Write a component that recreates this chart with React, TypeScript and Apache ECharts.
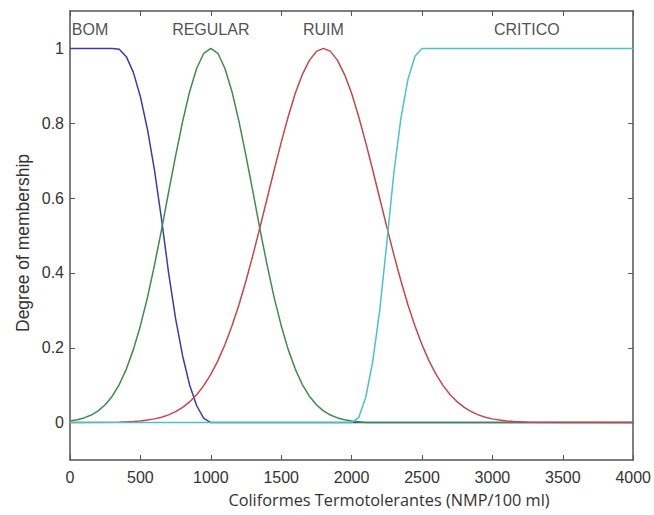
import React, { useEffect, useRef } from "react";
import * as echarts from "echarts";

// Membership function samples (x in NMP/100 ml, y = degree)
const bomX = [0, 300, 350, 400, 450, 500, 550, 600, 650, 700, 750, 800, 850, 900, 950, 1000, 4000];
const bomY = [1, 1, 0.998, 0.978, 0.936, 0.871, 0.784, 0.675, 0.544, 0.401, 0.278, 0.178, 0.1, 0.045, 0.011, 0, 0];

const regularX = [0, 50, 100, 150, 200, 250, 300, 350, 400, 450, 500, 550, 600, 650, 700, 750, 800, 850, 900, 950,
  1000, 1050, 1100, 1150, 1200, 1250, 1300, 1350, 1400, 1450, 1500, 1550, 1600, 1650, 1700, 1750, 1800, 1850, 1900, 1950, 2000, 2100, 4000];
const regularY = [0.0045, 0.0076, 0.0125, 0.0201, 0.0313, 0.0477, 0.0706, 0.1017, 0.143, 0.195, 0.259, 0.334, 0.421, 0.515, 0.615, 0.713, 0.805, 0.885, 0.947, 0.987,
  1, 0.987, 0.947, 0.885, 0.805, 0.713, 0.615, 0.515, 0.421, 0.334, 0.259, 0.195, 0.143, 0.1017, 0.0706, 0.0477, 0.0313, 0.0201, 0.0125, 0.0076, 0.0045, 0, 0];

const ruimX = [0, 350, 400, 450, 500, 550, 600, 650, 700, 750, 800, 850, 900, 950, 1000, 1050, 1100, 1150, 1200, 1250, 1300, 1350, 1400, 1450, 1500, 1550, 1600, 1650, 1700, 1750,
  1800, 1850, 1900, 1950, 2000, 2050, 2100, 2150, 2200, 2250, 2300, 2350, 2400, 2450, 2500, 2550, 2600, 2650, 2700, 2750, 2800, 2850, 2900, 2950, 3000, 3050, 3100, 3150, 3200, 3250, 4000];
const ruimY = [0, 0.0012, 0.0019, 0.0029, 0.0044, 0.0067, 0.0099, 0.0144, 0.0207, 0.0292, 0.0406, 0.0555, 0.0746, 0.0988, 0.129, 0.165, 0.208, 0.258, 0.315, 0.379, 0.449, 0.523, 0.599, 0.675, 0.749, 0.818, 0.88, 0.93, 0.968, 0.992,
  1, 0.992, 0.968, 0.93, 0.88, 0.818, 0.749, 0.675, 0.599, 0.523, 0.449, 0.379, 0.315, 0.258, 0.208, 0.165, 0.129, 0.0988, 0.0746, 0.0555, 0.0406, 0.0292, 0.0207, 0.0144, 0.0099, 0.0067, 0.0044, 0.0029, 0.0019, 0.0012, 0];

const criticoX = [0, 2000, 2050, 2100, 2150, 2200, 2250, 2300, 2350, 2400, 2450, 2500, 4000];
const criticoY = [0, 0, 0.013, 0.067, 0.163, 0.301, 0.48, 0.667, 0.813, 0.917, 0.979, 1, 1];

const mfNames = ["BOM", "REGULAR", "RUIM", "CRITICO"];
const mfLabelX = [142, 1000, 1800, 3245];
const mfLabelY = 1.05;

const yTicks = [0, 0.2, 0.4, 0.6, 0.8, 1];

const xTitle = "Coliformes Termotolerantes (NMP/100 ml)";
const yTitle = "Degree of membership";

const zip = (xs: number[], ys: number[]) => xs.map((x, i) => [x, ys[i]]);

export default function App() {
  const ref = useRef<HTMLDivElement>(null);
  useEffect(() => {
    if (!ref.current) return;
    const chart = echarts.init(ref.current, undefined, { renderer: "svg" });
    const axisColor = "#555";
    const sansFont = "'Liberation Sans', Arial, sans-serif";
    const labelStyle = { color: "#333", fontFamily: sansFont, fontSize: 16 };
    const lineSeries = (name: string, xs: number[], ys: number[], color: string) => ({
      name,
      type: "line",
      data: zip(xs, ys),
      symbol: "none",
      clip: true,
      lineStyle: { color, width: 1.5 },
      z: 2,
    });
    chart.setOption({
      animation: false,
      backgroundColor: "#fff",
      grid: { left: 70, right: 20, top: 11, bottom: 55 },
      xAxis: [
        {
          type: "value",
          min: 0,
          max: 4000,
          interval: 500,
          position: "bottom",
          axisLine: { show: true, onZero: false, lineStyle: { color: axisColor, width: 1.5 } },
          axisTick: { show: true, inside: true, length: 5, lineStyle: { color: axisColor } },
          axisLabel: { ...labelStyle, margin: 9, formatter: (v: number) => String(v) },
          splitLine: { show: false },
        },
        {
          type: "value",
          min: 0,
          max: 4000,
          interval: 500,
          position: "top",
          axisLine: { show: true, onZero: false, lineStyle: { color: axisColor, width: 1.5 } },
          axisTick: { show: true, inside: true, length: 5, lineStyle: { color: axisColor } },
          axisLabel: { show: false },
          splitLine: { show: false },
        },
      ],
      yAxis: [
        {
          type: "value",
          min: -0.1,
          max: 1.1,
          position: "left",
          axisLine: { show: true, onZero: false, lineStyle: { color: axisColor, width: 1.5 } },
          axisTick: { show: true, inside: true, length: 5, customValues: yTicks, lineStyle: { color: axisColor } },
          axisLabel: {
            ...labelStyle,
            margin: 6,
            customValues: yTicks,
            formatter: (v: number) => String(+v.toFixed(1)),
          },
          splitLine: { show: false },
        },
        {
          type: "value",
          min: -0.1,
          max: 1.1,
          position: "right",
          axisLine: { show: true, onZero: false, lineStyle: { color: axisColor, width: 1.5 } },
          axisTick: { show: true, inside: true, length: 5, customValues: yTicks, lineStyle: { color: axisColor } },
          axisLabel: { show: false, customValues: yTicks },
          splitLine: { show: false },
        },
      ],
      series: [
        lineSeries("BOM", bomX, bomY, "#3c3caa"),
        lineSeries("REGULAR", regularX, regularY, "#3f8a4f"),
        lineSeries("RUIM", ruimX, ruimY, "#c4474d"),
        lineSeries("CRITICO", criticoX, criticoY, "#4cc2c6"),
        {
          name: "labels",
          type: "scatter",
          data: mfNames.map((n, i) => ({ value: [mfLabelX[i], mfLabelY], name: n })),
          symbol: "circle",
          symbolSize: 2,
          itemStyle: { color: "rgba(255,255,255,0)" },
          silent: true,
          label: {
            show: true,
            position: "inside",
            formatter: (p: any) => p.name,
            color: "#222",
            fontFamily: sansFont,
            fontSize: 16,
          },
          z: 5,
        },
      ],
      graphic: [
        {
          type: "text",
          x: 389,
          y: 500,
          style: {
            text: xTitle,
            fill: "#333",
            font: "16.3px 'Open Sans', sans-serif",
            textAlign: "center",
            textVerticalAlign: "middle",
          },
        },
        {
          type: "text",
          x: 23,
          y: 243,
          rotation: Math.PI / 2,
          style: {
            text: yTitle,
            fill: "#333",
            font: "17.5px 'Liberation Sans', Arial, sans-serif",
            textAlign: "center",
            textVerticalAlign: "middle",
          },
        },
      ],
    });
    return () => chart.dispose();
  }, []);
  return <div ref={ref} style={{ position: "fixed", left: 0, top: 0, width: 654, height: 515 }} />;
}
